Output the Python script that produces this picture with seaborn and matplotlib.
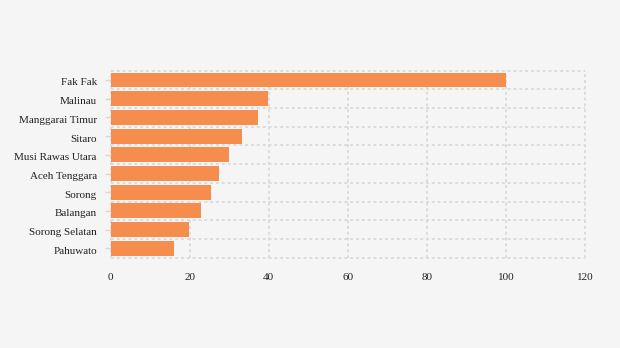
import matplotlib
matplotlib.use("Agg")
import matplotlib.pyplot as plt
import matplotlib.transforms as mtransforms
import seaborn as sns
import pandas as pd
from matplotlib.ticker import FixedLocator

regions = ["Fak Fak", "Malinau", "Manggarai Timur", "Sitaro", "Musi Rawas Utara",
           "Aceh Tenggara", "Sorong", "Balangan", "Sorong Selatan", "Pahuwato"]
values = [100, 39.7, 37.3, 33.2, 30.0, 27.4, 25.4, 22.9, 19.8, 16.0]
xticks = [0, 20, 40, 60, 80, 100, 120]

df = pd.DataFrame({"region": regions, "value": values})

sns.set_style("white")
plt.rcParams["font.family"] = ["Liberation Serif", "DejaVu Serif"]

fig = plt.figure(figsize=(6.2, 3.48), dpi=100, facecolor="#f5f5f5")
ax = fig.add_axes([0.1786, 0.2595, 0.7649, 0.5375])
ax.set_facecolor("#f5f5f5")

sns.barplot(data=df, x="value", y="region", orient="h", color="#f58d4f",
            saturation=1, width=0.8, ax=ax, edgecolor="none")

ax.set_xlim(0, 120)
ax.set_ylim(len(regions) - 0.5, -0.5)
ax.xaxis.set_major_locator(FixedLocator(xticks))
ax.set_xticklabels([str(t) for t in xticks])
ax.yaxis.set_minor_locator(FixedLocator([i - 0.5 for i in range(len(regions) + 1)]))

ax.set_axisbelow(True)
grid_style = dict(color="#dcdcdc", linestyle=(0, (1.5, 1.5)), linewidth=1.4, clip_on=False)
ax.grid(True, axis="x", which="major", **grid_style)
ax.grid(True, axis="y", which="minor", **grid_style)
ax.grid(False, axis="y", which="major")

for s in ax.spines.values():
    s.set_visible(False)

ax.tick_params(axis="x", length=0, pad=11, labelsize=8, labelcolor="#222222")
ax.tick_params(axis="y", which="major", length=4, width=1, color="#d8d8d8", pad=6,
               labelsize=8, labelcolor="#222222", left=True)
ax.tick_params(axis="y", which="minor", length=0)
ax.set_xlabel("")
ax.set_ylabel("")

offset = mtransforms.ScaledTranslation(0, -2 / 100, fig.dpi_scale_trans)
for lbl in ax.get_yticklabels():
    lbl.set_transform(lbl.get_transform() + offset)

fig.savefig("out.png", dpi=100, facecolor="#f5f5f5")
